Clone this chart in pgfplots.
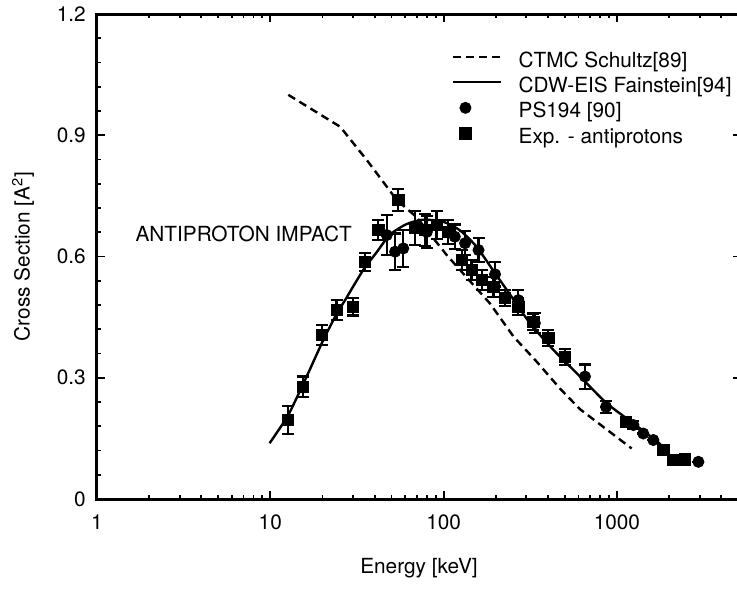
\documentclass[border=0pt]{standalone}
\usepackage{fontspec}
\setmainfont{TeX Gyre Heros}
\usepackage{pgfplots}
\pgfplotsset{compat=1.18}
\pgfplotsset{
 linelegend/.style={legend image code/.code={\draw[##1] (0pt,2.5pt) -- (24pt,2.5pt); \path (32pt,2.5pt);}},
 marklegend/.style={legend image code/.code={\draw[##1] plot coordinates {(6pt,2.5pt)}; \path (0pt,2.5pt) (32pt,2.5pt);}},
}
\begin{document}
\fontsize{10.4}{12.4}\selectfont
\begin{tikzpicture}
\begin{axis}[
 at={(0,0)}, anchor=south west,
 scale only axis, width=322pt, height=242.5pt,
 xmode=log, xmin=1, xmax=5200, ymin=0, ymax=1.2,
 xtick={1,10,100,1000}, xticklabels={1,10,100,1000},
 minor xtick={2,3,4,5,6,7,8,9,20,30,40,50,60,70,80,90,200,300,400,500,600,700,800,900,2000,3000,4000,5000},
 ytick={0,0.3,0.6,0.9,1.2}, yticklabels={0,0.3,0.6,0.9,1.2},
 minor y tick num=4,
 tick align=inside,
 major tick length=4pt, minor tick length=2.2pt,
 every tick/.style={black, line width=0.9pt},
 axis line style={line width=1.5pt},
 /pgf/number format/assume math mode=true,
 tick label style={font=\fontsize{10.4}{12.4}\selectfont},
 xticklabel style={yshift=-4pt},
 yticklabel style={xshift=-2pt},
 xlabel={Energy [keV]},
 ylabel={Cross Section [A\textsuperscript{2}]},
 label style={font=\fontsize{10.4}{12.4}\selectfont},
 xlabel style={at={(axis description cs:0.5,-0.142)}, anchor=center},
 ylabel style={at={(axis description cs:-0.115,0.5)}, anchor=center},
 legend style={at={(rel axis cs:0.551,0.922)}, anchor=north west, draw=none, fill=none,
   inner sep=0pt, row sep=2.5pt, column sep=0pt,
   nodes={inner sep=0pt, anchor=west, text height=7.5pt, text depth=2.5pt},
   font=\fontsize{10.4}{12.4}\selectfont},
 legend cell align=left,
]
\addplot[black, line width=1.2pt, dash pattern=on 4pt off 2.5pt, linelegend]
 table {
12.7 1.0
25.3 0.921
36 0.839
53.6 0.740
70 0.697
104 0.604
136 0.548
185 0.484
253 0.402
344 0.340
470 0.273
613 0.222
873 0.172
1216 0.125
};
\addlegendentry{CTMC Schultz[89]}
\addplot[black, line width=1.2pt, smooth, tension=0.4, linelegend]
 table {
9.9 0.138
12.7 0.208
16.2 0.303
20.2 0.393
24.2 0.459
27 0.492
34.4 0.567
41 0.610
49 0.654
61 0.680
76 0.691
99.5 0.686
124 0.665
155 0.624
200 0.556
250 0.497
315 0.435
430 0.369
613 0.303
873 0.237
1245 0.187
1700 0.143
1850 0.128
};
\addlegendentry{CDW-EIS Fainstein[94]}
\addplot[black, only marks, mark=*, mark size=2.8pt, forget plot,
  error bars/.cd, y dir=both, y explicit,
  error bar style={line width=1.1pt},
  error mark options={rotate=90, line width=1.1pt, mark size=3pt, black}]
 table[x index=0, y index=1, y error index=2] {
47 0.653 0.05
52.5 0.612 0.045
58.5 0.620 0.045
80 0.661 0.04
116 0.649 0.03
133 0.633 0.03
159 0.616 0.03
198 0.556 0.03
270 0.492 0.025
336 0.435 0.025
654 0.303 0.03
865 0.228 0.015
1245 0.183 0.01
1419 0.162 0
1622 0.146 0
2952 0.092 0
};
\addlegendimage{black, only marks, mark=*, mark size=2.8pt, marklegend}
\addlegendentry{PS194 [90]}
\addplot[black, only marks, mark=square*, mark size=2.8pt, forget plot,
  error bars/.cd, y dir=both, y explicit,
  error bar style={line width=1.1pt},
  error mark options={rotate=90, line width=1.1pt, mark size=3pt, black}]
 table[x index=0, y index=1, y error index=2] {
12.7 0.195 0.035
15.5 0.278 0.025
19.8 0.406 0.025
24.1 0.468 0.025
29.9 0.476 0.022
35.2 0.587 0.022
42 0.666 0.025
54.8 0.740 0.027
68.4 0.670 0.042
78 0.666 0.04
91 0.678 0.035
106 0.661 0.03
127 0.591 0.025
145 0.567 0.025
166 0.542 0.025
194 0.525 0.025
226 0.497 0.02
270 0.476 0.02
330 0.439 0.02
402 0.398 0.02
501 0.352 0.02
1128 0.191 0.012
1853 0.121 0.012
2118 0.096 0.01
2474 0.098 0.01
};
\addlegendimage{black, only marks, mark=square*, mark size=2.8pt, marklegend}
\addlegendentry{Exp. - antiprotons}
\node[anchor=west, inner sep=0pt] at (axis cs:1.66,0.656) {ANTIPROTON IMPACT};
\end{axis}
\pgfresetboundingbox
\useasboundingbox (-48.5pt,-45.5pt) rectangle (320pt,249.5pt);
\end{tikzpicture}
\end{document}
